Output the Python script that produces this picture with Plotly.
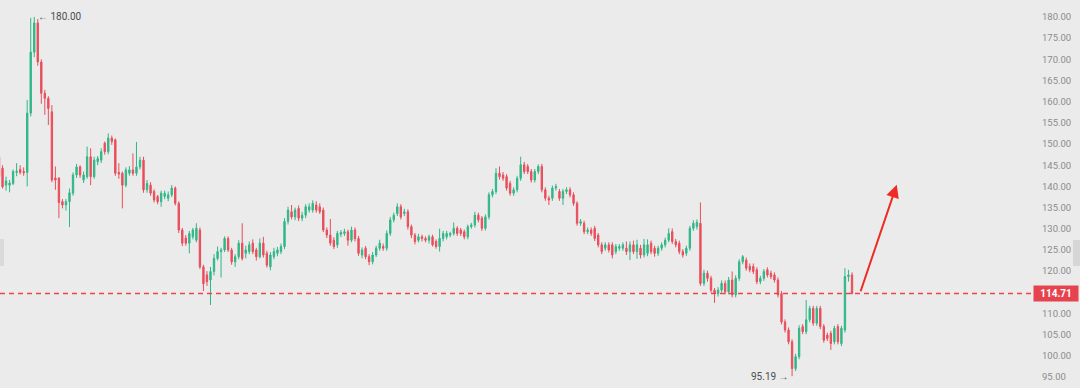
import plotly.graph_objects as go

# ---- data ----
open_ = [147.0,144.3,140.3,140.3,140.7,143.3,144.0,143.5,143.3,157.3,
         171.7,178.6,169.4,162.0,160.8,157.6,142.0,141.9,136.4,135.6,
         136.4,138.4,142.7,144.6,141.5,142.3,147.0,142.3,145.8,146.2,
         150.2,148.2,151.4,151.0,143.3,143.1,140.3,143.1,143.9,143.1,
         144.6,146.2,139.2,140.3,138.8,137.6,136.4,137.6,137.2,138.0,
         139.6,136.0,129.7,127.8,126.6,128.1,127.3,129.7,121.0,119.1,
         117.9,119.9,123.0,124.6,125.0,127.7,125.0,122.2,123.4,126.6,
         124.2,124.6,126.6,125.0,123.4,126.6,124.2,121.0,123.4,124.2,
         124.6,125.8,131.7,134.0,132.8,134.8,132.5,133.2,134.4,134.4,
         135.6,135.2,134.4,129.7,128.5,127.3,126.2,128.7,128.9,129.3,
         127.3,129.7,127.7,123.8,125.4,123.4,122.2,123.8,125.4,125.8,
         125.4,128.9,132.1,133.6,135.2,133.6,134.0,130.5,128.5,127.3,
         128.1,127.7,127.3,128.1,127.0,125.8,127.7,128.1,128.5,128.9,
         130.1,129.7,129.3,128.1,130.5,130.9,133.2,132.5,130.1,132.8,
         138.0,138.8,143.1,142.7,142.3,140.7,138.4,139.2,141.9,145.1,
         144.7,143.5,141.5,143.5,144.7,139.2,137.2,137.2,139.6,138.8,
         137.2,138.8,139.2,138.0,136.0,131.3,131.3,129.3,129.7,130.1,
         128.5,126.2,125.4,126.2,126.2,124.6,125.4,125.4,125.4,124.6,
         126.2,124.6,125.4,123.8,124.2,126.6,125.4,124.2,125.4,126.2,
         127.3,129.3,127.0,126.6,124.6,124.2,125.4,130.1,130.5,131.3,
         117.1,119.5,118.3,115.5,114.7,115.5,117.1,115.1,117.9,114.4,
         118.3,122.2,122.6,121.1,121.1,120.3,117.5,118.3,120.3,119.5,
         119.1,117.9,114.7,108.0,106.1,103.3,97.0,99.8,106.9,105.7,
         108.5,111.2,107.7,111.2,106.9,104.9,105.3,103.3,106.9,102.9,
         106.1,118.7,119.1]
high = [147.8,145.0,142.3,141.5,144.0,145.5,145.0,144.5,160.4,179.8,
        180.0,179.5,170.0,162.8,161.3,159.2,144.7,142.2,137.0,137.0,
        139.5,143.3,145.3,145.0,143.5,149.4,149.0,147.0,147.2,149.0,
        150.6,152.5,152.0,151.3,145.5,143.5,144.5,144.8,147.8,150.5,
        147.0,147.0,141.5,141.0,139.3,138.0,139.0,139.0,138.8,140.3,
        140.0,136.5,130.2,128.5,129.5,130.2,131.3,130.3,121.5,120.0,
        121.0,124.0,125.8,125.5,128.2,128.2,125.5,124.0,127.3,131.3,
        126.0,127.0,127.5,125.5,127.7,128.1,124.8,124.5,125.5,125.7,
        126.5,132.5,135.2,135.6,135.0,135.5,134.0,135.8,136.0,136.7,
        136.5,136.0,135.0,130.3,132.3,128.0,129.5,129.7,130.0,129.8,
        130.5,130.3,128.3,125.6,125.9,124.0,124.5,126.0,127.4,126.5,
        129.6,132.8,133.8,136.0,135.8,134.7,134.6,131.0,129.0,128.8,
        128.6,128.2,128.6,128.6,127.5,130.0,129.5,129.5,129.3,131.5,
        130.6,130.2,129.8,131.0,131.4,134.0,133.8,133.0,133.4,138.6,
        139.4,144.3,144.7,143.4,142.9,141.3,139.8,142.5,147.0,145.8,
        145.3,144.1,144.1,145.2,145.3,139.8,137.8,140.2,140.6,139.4,
        139.4,139.8,139.8,138.6,136.5,132.3,131.9,130.3,130.3,130.7,
        129.0,126.8,126.8,126.8,126.8,126.4,126.4,126.8,127.0,127.0,
        127.2,127.4,126.2,127.6,127.5,127.2,126.0,126.0,126.8,127.9,
        130.1,130.1,127.6,127.2,125.2,126.0,130.7,132.0,132.2,136.2,
        120.3,120.1,118.9,116.0,116.2,117.8,117.8,118.6,119.9,119.0,
        122.8,123.8,123.2,121.8,121.8,120.9,118.9,120.5,120.9,120.1,
        119.7,118.5,115.3,108.6,106.7,103.9,100.5,107.2,107.5,113.2,
        111.8,111.8,111.8,111.8,107.5,105.5,105.9,107.1,107.5,107.1,
        120.7,120.3,119.7]
low = [141.8,139.5,139.0,138.6,140.3,142.4,142.8,142.5,140.0,156.5,
       170.5,168.5,159.5,156.9,154.5,141.0,139.2,132.5,134.8,134.3,
       130.4,137.8,142.0,142.0,140.8,141.8,140.3,141.8,145.0,145.5,
       147.5,147.6,149.8,142.5,141.8,134.8,139.8,142.5,142.5,142.5,
       144.0,138.5,138.5,137.8,136.2,135.8,135.2,137.0,136.5,137.5,
       135.5,129.0,125.9,126.0,124.2,127.5,126.8,120.5,115.3,116.5,
       112.0,119.0,122.5,118.5,124.5,124.5,121.5,121.0,122.8,122.5,
       123.0,124.0,124.0,122.5,123.0,123.2,120.8,120.2,122.8,123.5,
       124.0,125.2,131.0,132.2,132.0,131.8,131.8,132.5,133.8,133.8,
       133.8,133.5,129.2,127.8,126.0,125.2,125.5,128.0,128.3,126.0,
       126.8,127.0,123.6,123.0,122.8,121.4,121.6,123.3,124.8,124.8,
       124.8,128.3,131.5,133.0,132.2,133.0,129.8,127.8,126.3,126.8,
       127.0,126.8,126.5,125.8,125.3,124.6,127.0,127.5,128.0,128.4,
       128.3,128.3,127.5,127.5,130.0,130.3,131.5,129.5,129.6,132.2,
       137.4,138.2,141.6,141.3,139.0,137.8,137.8,138.6,141.3,142.9,
       142.9,140.9,140.9,142.9,138.6,136.6,135.6,136.6,139.0,136.6,
       135.6,138.2,137.4,135.4,130.7,130.7,128.7,128.7,128.3,127.1,
       125.6,124.0,124.8,124.4,123.0,124.0,124.8,124.8,123.8,122.6,
       124.0,122.9,123.0,123.2,123.5,124.0,123.4,123.6,124.8,125.6,
       126.8,126.4,125.6,124.0,123.2,123.6,124.8,129.5,129.8,116.5,
       116.5,117.5,114.9,112.5,114.0,114.9,114.5,114.5,113.8,113.8,
       117.7,121.6,120.1,119.7,119.3,116.9,116.9,117.7,118.5,118.1,
       117.3,113.8,107.4,105.5,102.7,95.19,96.4,99.2,105.1,105.1,
       107.9,107.1,107.1,106.3,103.1,103.5,101.4,102.7,102.7,102.3,
       105.5,117.5,114.5]
close = [142.3,139.9,141.3,140.8,143.5,143.6,143.3,143.2,157.3,171.7,
         178.6,169.4,162.0,160.8,158.4,141.5,141.5,136.2,135.6,136.4,
         138.5,142.7,144.6,142.7,142.7,147.0,142.3,146.2,146.6,148.2,
         148.2,151.4,150.6,143.1,142.9,140.3,143.9,143.9,143.1,144.6,
         146.2,139.2,140.7,138.4,136.8,136.4,138.4,138.4,138.0,139.6,
         136.0,129.7,126.6,126.6,128.9,129.7,130.1,121.0,117.0,117.5,
         119.9,123.0,124.6,125.0,127.7,125.0,122.2,123.4,126.6,123.0,
         125.0,126.2,124.6,123.4,126.6,123.8,121.4,123.8,124.6,125.0,
         125.8,131.7,134.4,132.8,134.4,132.5,133.2,135.2,135.2,136.0,
         134.4,134.0,129.7,128.5,126.6,125.8,128.9,129.1,129.3,127.3,
         129.7,127.7,124.2,125.0,123.4,122.2,123.8,125.4,126.6,125.4,
         128.9,132.1,133.2,135.2,132.8,134.0,130.5,128.5,127.0,128.1,
         127.7,127.3,128.1,126.2,125.8,127.7,128.9,128.9,128.9,130.1,
         128.9,128.9,128.1,130.5,130.9,133.2,132.1,130.1,132.8,138.0,
         138.8,143.1,142.3,141.9,139.6,138.4,139.2,141.9,145.1,143.5,
         143.5,141.5,143.5,144.7,139.2,137.2,136.8,139.6,140.0,137.2,
         138.8,139.2,138.0,136.0,131.3,131.7,129.3,129.7,128.9,127.7,
         126.2,124.6,126.2,125.0,123.8,125.8,125.8,126.2,124.6,126.2,
         124.6,126.2,123.8,126.2,126.2,124.6,124.2,125.4,126.2,127.3,
         128.9,127.0,126.2,124.6,123.8,125.4,130.1,131.3,131.5,117.1,
         119.5,118.3,115.5,114.7,115.5,117.1,115.1,117.9,114.4,118.3,
         122.2,123.4,120.7,120.3,119.9,117.5,118.3,119.9,119.1,118.7,
         117.9,114.4,108.0,106.1,103.3,97.0,99.8,106.5,105.7,108.5,
         111.2,107.7,111.2,106.9,103.7,104.1,102.9,106.5,103.3,106.5,
         118.7,119.1,114.71]

last_price = 114.71
high_label = "180.00"
low_label = "95.19"
y_ticks = [95, 100, 105, 110, 115, 120, 125, 130, 135, 140, 145, 150,
           155, 160, 165, 170, 175, 180]
arrow_start = (244.3, 114.9)   # (bar index, price) of hand-drawn arrow
arrow_end = (254.7, 140.4)

n = len(close)
x = list(range(n))
hi_idx = high.index(max(high))
lo_idx = low.index(min(low))

# ---- geometry ----
W, H = 1080, 388
R_MARGIN = 44
plot_w = W - R_MARGIN
first_px, last_px = -1.0, 852.0
step = (last_px - first_px) / (n - 1)
xmin = -first_px / step
xmax = xmin + plot_w / step

GREEN = "#2fb787"
RED = "#ea4d5a"
BG = "#ebebeb"

fig = go.Figure()
fig.add_trace(go.Candlestick(
    x=x, open=open_, high=high, low=low, close=close,
    increasing=dict(line=dict(color=GREEN, width=1), fillcolor=GREEN),
    decreasing=dict(line=dict(color=RED, width=1), fillcolor=RED),
    whiskerwidth=0, hoverinfo="skip", showlegend=False,
))

# last-price dashed line
fig.add_trace(go.Scatter(
    x=[xmin, xmax], y=[last_price, last_price], mode="lines",
    line=dict(color="#f2404c", width=1.4, dash="5px,4px"),
    hoverinfo="skip", showlegend=False, cliponaxis=False,
))

# side tabs
fig.add_shape(type="rect", xref="paper", yref="paper",
              x0=0, x1=4 / plot_w, y0=1 - 266 / H, y1=1 - 239 / H,
              line=dict(width=0), fillcolor="#dadada")
fig.add_shape(type="rect", xref="paper", yref="paper",
              x0=1073 / plot_w, x1=1080 / plot_w, y0=1 - 266 / H, y1=1 - 240 / H,
              line=dict(width=0), fillcolor="#d6d6d6")

ann = []
ann.append(dict(x=hi_idx, y=max(high), xref="x", yref="y",
                text="\u2190 " + high_label, showarrow=False,
                xanchor="left", yanchor="middle", xshift=2,
                font=dict(family="Roboto, Arial", size=10, color="#4d4d4d")))
ann.append(dict(x=lo_idx, y=min(low), xref="x", yref="y",
                text=low_label + " \u2192", showarrow=False,
                xanchor="right", yanchor="middle", xshift=-1,
                font=dict(family="Roboto, Arial", size=10, color="#4d4d4d")))
ann.append(dict(x=1, y=last_price, xref="paper", yref="y",
                text="<b>%.2f</b>" % last_price, showarrow=False,
                xanchor="left", yanchor="middle", xshift=-3,
                width=40, height=11, bgcolor="#e5444f", borderpad=2,
                align="center",
                font=dict(family="Roboto, Arial", size=10, color="#ffffff")))
ann.append(dict(x=arrow_end[0], y=arrow_end[1], ax=arrow_start[0], ay=arrow_start[1],
                xref="x", yref="y", axref="x", ayref="y", text="",
                showarrow=True, arrowhead=2, arrowsize=1.3, arrowwidth=2,
                arrowcolor="#ee2b24"))

fig.update_layout(
    width=W, height=H,
    margin=dict(l=0, r=R_MARGIN, t=0, b=0),
    paper_bgcolor=BG, plot_bgcolor=BG,
    boxgap=0.45,
    annotations=ann,
    xaxis=dict(range=[xmin, xmax], visible=False, rangeslider=dict(visible=False),
               fixedrange=True),
    yaxis=dict(range=[92.40, 184.01], side="right", tickvals=y_ticks,
               ticktext=["%.2f" % v for v in y_ticks], showgrid=False,
               zeroline=False, showline=False, ticks="", ticklabelstandoff=5,
               tickfont=dict(family="Roboto, Arial", size=9.5, color="#8c8c8c"),
               fixedrange=True),
)

fig.write_html("out.html", config={"displayModeBar": False},
               post_script="document.body.style.margin='0';"
                           "document.body.style.overflow='hidden';"
                           "document.body.style.background='%s';" % BG)
